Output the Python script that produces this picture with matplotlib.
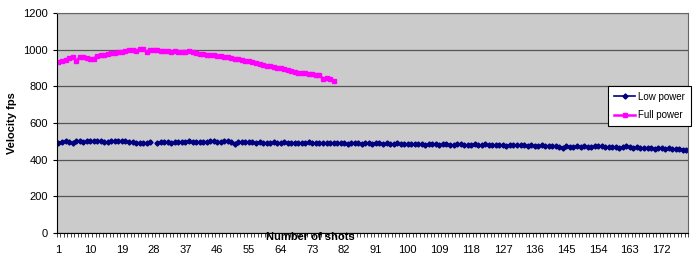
import numpy as np
import matplotlib
matplotlib.use('Agg')
import matplotlib.pyplot as plt
from matplotlib.ticker import FixedLocator

plt.rcParams['font.family'] = ['Liberation Sans', 'DejaVu Sans']

# Velocity (fps) per shot
full_power = [
    930, 938, 945, 952, 960, 938, 958, 962, 955, 948,
    950, 965, 972, 968, 978, 980, 982, 985, 988, 990,
    995, 1000, 990, 1002, 1005, 985, 998, 1000, 995, 992,
    990, 990, 988, 990, 988, 986, 985, 990, 988, 980,
    978, 975, 972, 970, 968, 966, 965, 960, 958, 955,
    950, 948, 945, 940, 935, 930, 925, 922, 918, 912,
    910, 905, 900, 898, 895, 890, 885, 880, 875, 870,
    872, 868, 865, 862, 860, 842, 845, 838, 830,
]

low_power = [
    492, 498, 500, 495, 490, 502, 500, 498, 500, 501,
    499, 502, 500, 498, 496, 500, 502, 503, 501, 499,
    498, 495, 492, 493, 490, 492, 494, np.nan,
    492, 494, 495, 496, 490, 495, 497, 496, 498, 499,
    497, 495, 496, 498, 497, 499, 500, 498, 497, 499,
    500, 497, 485, 494, 496, 495, 497,
    494, 492, 495, 493, 490, 492, 494, 491, 493, 495,
    492, 490, 493, 491, 489, 492, 494, 490, 488, 492,
    491, 489, 493, 490, 488, 491, 489, 487, 490, 492,
    488, 486, 489, 491, 487, 489, 490, 486, 488, 487,
    485, 488, 486, 484, 487,
    485, 483, 486, 484, 482, 485, 487, 483, 481, 484,
    486, 482, 480, 483, 485, 481, 479, 482, 484, 480,
    478, 483, 481, 477, 480, 482, 478, 476, 479, 481,
    477, 480, 478, 475, 478, 476, 473, 477, 475, 472,
    476, 474, 470, 465, 473, 471, 468, 472, 470, 474,
    471, 469, 472, 475, 473, 470, 468, 471, 469, 466,
    470, 472, 468, 465, 468, 464, 462, 466, 463, 460,
    464, 461, 458, 462, 459, 456, 458, 455, 452,
]

y_ticks = [0, 200, 400, 600, 800, 1000, 1200]
x_ticks = list(range(1, 173, 9))

x_low = np.arange(1, len(low_power) + 1)
x_full = np.arange(1, len(full_power) + 1)

fig = plt.figure(figsize=(7.0, 2.58), dpi=100)
fig.patch.set_facecolor('white')
ax = fig.add_axes([0.081, 0.097, 0.902, 0.853])
ax.set_facecolor('#cbcbcb')

ax.plot(x_low, low_power, color='#000080', linewidth=1.2, marker='D',
        markersize=2.6, label='Low power')
ax.plot(x_full, full_power, color='#ff00ff', linewidth=1.8, marker='s',
        markersize=3.4, label='Full power')

ax.set_xlim(0.5, len(low_power) + 0.5)
ax.set_ylim(0, 1200)
ax.set_yticks(y_ticks)
ax.set_xticks(x_ticks)
ax.xaxis.set_minor_locator(FixedLocator(np.arange(0.5, len(low_power) + 1, 1)))
ax.tick_params(axis='x', which='major', length=0, labelsize=8, pad=9)
ax.tick_params(axis='x', which='minor', length=3, width=0.5, direction='out')
ax.tick_params(axis='y', length=3, width=0.8, labelsize=8)
ax.grid(axis='y', color='#555555', linewidth=0.9)
ax.set_axisbelow(True)
for s in ax.spines.values():
    s.set_color('#666666')
    s.set_linewidth(0.8)
ax.spines['left'].set_color('black')
ax.spines['bottom'].set_color('black')

fig.text(12 / 700, 1 - 123 / 258, 'Velocity fps', fontsize=8, fontweight='bold',
         rotation=90, ha='center', va='center')
fig.text(310 / 700, 1 - 237 / 258, 'Number of shots', fontsize=8,
         fontweight='bold', ha='center', va='center')

leg = fig.legend(loc='center', bbox_to_anchor=(0.86, 0.508, 0.136, 0.163),
                 fontsize=7, frameon=True, fancybox=False, framealpha=1,
                 edgecolor='black', handlelength=2.2, labelspacing=0.9,
                 borderpad=0.6, handletextpad=0.3)
leg.get_frame().set_linewidth(0.8)

fig.savefig('out.png', dpi=100, facecolor='white')
